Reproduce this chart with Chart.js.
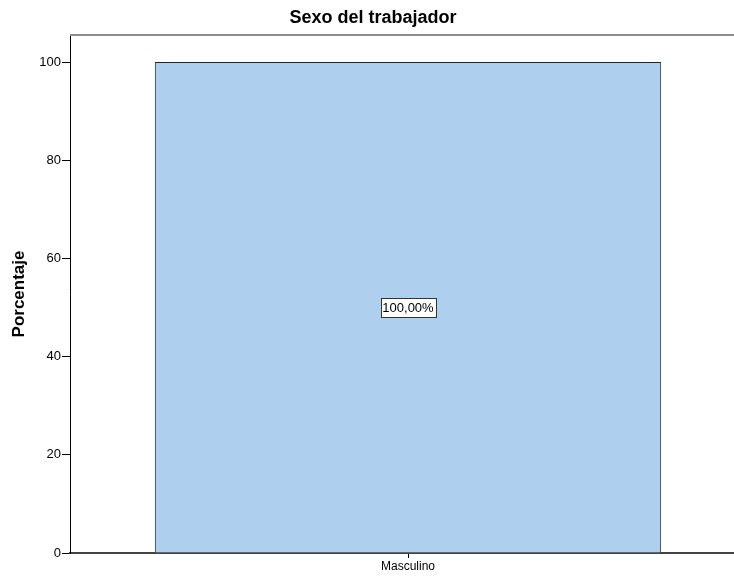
<!DOCTYPE html>
<html>
<head>
<meta charset="utf-8">
<script src="https://cdn.jsdelivr.net/npm/chart.js@4.4.1/dist/chart.umd.min.js"></script>
<style>
  html, body { margin: 0; padding: 0; background: #fff; overflow: hidden; }
  #wrap { width: 746px; height: 579px; }
</style>
</head>
<body>
<div id="wrap"><canvas id="grafico"></canvas></div>
<script>
// Datos
const categorias = ['Masculino'];
const porcentajes = [100];
const etiquetas = ['100,00%'];

const FUENTE = '"Liberation Sans", Arial, sans-serif';

// Línea gris superior del marco
const marcoSuperior = {
  id: 'marcoSuperior',
  afterDraw(chart) {
    const { ctx, chartArea: a } = chart;
    ctx.save();
    ctx.strokeStyle = '#8c8c8c';
    ctx.lineWidth = 2;
    ctx.beginPath();
    ctx.moveTo(a.left, a.top);
    ctx.lineTo(a.right, a.top);
    ctx.stroke();
    ctx.restore();
  }
};

// Etiqueta con recuadro en el centro de la barra
const etiquetaBarra = {
  id: 'etiquetaBarra',
  afterDatasetsDraw(chart) {
    const { ctx } = chart;
    const meta = chart.getDatasetMeta(0);
    meta.data.forEach((bar, i) => {
      const y = (bar.y + bar.base) / 2;
      ctx.save();
      ctx.font = '13px ' + FUENTE;
      const w = Math.round(ctx.measureText(etiquetas[i]).width + 4);
      const h = 19;
      const x0 = Math.round(bar.x - w / 2) + 0.5;
      const y0 = Math.round(y - h / 2) + 0.5;
      ctx.fillStyle = '#fff';
      ctx.fillRect(x0, y0, w, h);
      ctx.strokeStyle = '#333';
      ctx.lineWidth = 1;
      ctx.strokeRect(x0, y0, w, h);
      ctx.fillStyle = '#000';
      ctx.textAlign = 'center';
      ctx.textBaseline = 'middle';
      ctx.fillText(etiquetas[i], bar.x, y + 1);
      ctx.restore();
    });
  }
};

new Chart(document.getElementById('grafico'), {
  type: 'bar',
  data: {
    labels: categorias,
    datasets: [{
      data: porcentajes,
      backgroundColor: '#aecfed',
      borderColor: '#222',
      borderWidth: 1,
      categoryPercentage: 1,
      barPercentage: 0.749,
    }],
  },
  options: {
    responsive: true,
    maintainAspectRatio: false,
    animation: false,
    layout: { padding: 0 },
    plugins: {
      legend: { display: false },
      tooltip: { enabled: false },
      title: {
        display: true,
        text: 'Sexo del trabajador',
        color: '#000',
        font: { family: FUENTE, size: 18, weight: 'bold', lineHeight: 1 },
        padding: { top: 9, bottom: 8 },
      },
    },
    scales: {
      x: {
        grid: { drawOnChartArea: false, offset: false, tickLength: 5, color: '#000' },
        border: { color: '#444', width: 2 },
        ticks: { color: '#000', font: { family: FUENTE, size: 12 }, padding: 1 },
        afterFit(scale) { scale.height = 26; },
      },
      y: {
        min: 0,
        max: 105.5,
        grid: { drawOnChartArea: false, tickLength: 8, color: '#000' },
        border: { color: '#000', width: 1 },
        ticks: {
          stepSize: 20,
          includeBounds: false,
          color: '#000',
          padding: 1,
          font: { family: FUENTE, size: 13 },
        },
        title: {
          display: true,
          text: 'Porcentaje',
          color: '#000',
          font: { family: FUENTE, size: 17, weight: 'bold' },
          padding: { top: 9, bottom: 0 },
        },
        afterFit(scale) { scale.width = 70; },
      },
    },
  },
  plugins: [marcoSuperior, etiquetaBarra],
});
</script>
</body>
</html>
